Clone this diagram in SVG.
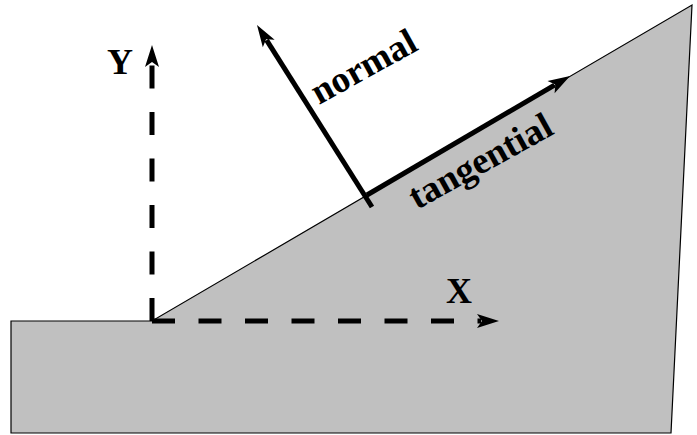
<svg xmlns="http://www.w3.org/2000/svg" width="697" height="435" viewBox="0 0 697 435">
<style>
.lbl{font-family:"Liberation Serif","Times New Roman",serif;font-weight:bold;font-size:36px;fill:#000}
.rot{font-size:37px}
.ax{stroke:#000;stroke-width:5;fill:none;stroke-dasharray:23 23.5}
.vec{stroke:#000;stroke-width:5;fill:none}
</style>
<defs>
<marker id="ah" markerUnits="userSpaceOnUse" orient="auto" refX="-18" refY="0" markerWidth="30" markerHeight="20" overflow="visible">
<path d="M-22,-7 L0,0 L-22,7 L-17,0 Z" fill="#000"/>
</marker>
</defs>
<g id="slope">
<polygon points="11,321 152,321 692,5 671,433 11,433" fill="#c0c0c0" stroke="#000" stroke-width="1.2"/>
</g>
<g id="connectors">
<path class="ax" d="M152,321 V63" marker-end="url(#ah)"/>
<path class="ax" d="M152,321 H481" marker-end="url(#ah)"/>
<path class="vec" d="M372,207 L266.6,40.2" marker-end="url(#ah)"/>
<path class="vec" d="M367,195 L554.5,85.1" marker-end="url(#ah)"/>
</g>
<g id="labels">
<text class="lbl" x="107" y="74">Y</text>
<text class="lbl" x="446" y="303">X</text>
<text class="lbl rot" transform="translate(319,105) rotate(-29)">normal</text>
<text class="lbl rot" transform="translate(417,210) rotate(-29)">tangential</text>
</g>
</svg>
